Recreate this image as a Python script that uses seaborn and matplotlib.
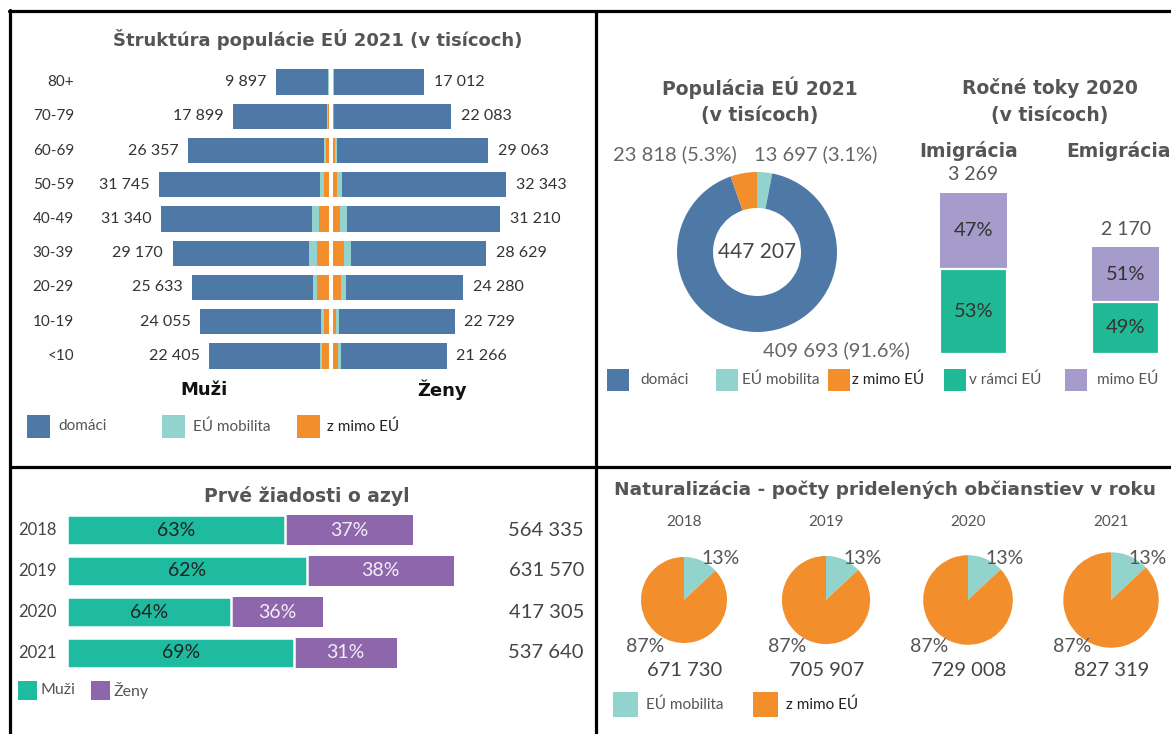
import numpy as np
import pandas as pd
import matplotlib
matplotlib.use("Agg")
import matplotlib.pyplot as plt
import matplotlib.transforms as mtransforms
from matplotlib.patches import Rectangle
from matplotlib.lines import Line2D
import seaborn as sns

W, H = 1171, 734

# --- population pyramid (thousands) ---
age_groups = ["80+", "70-79", "60-69", "50-59", "40-49", "30-39", "20-29", "10-19", "<10"]
men_total = [9897, 17899, 26357, 31745, 31340, 29170, 25633, 24055, 22405]
women_total = [17012, 22083, 29063, 32343, 31210, 28629, 24280, 22729, 21266]
men_eu_mob = [60, 150, 400, 750, 1200, 1400, 700, 550, 450]
men_non_eu = [60, 150, 500, 900, 1900, 2250, 2250, 950, 1250]
women_eu_mob = [60, 80, 300, 900, 1250, 1250, 950, 550, 600]
women_non_eu = [60, 100, 450, 800, 1400, 2050, 1500, 500, 900]

# --- EU population donut 2021 (thousands) ---
pop_labels = ["EÚ mobilita", "domáci", "z mimo EÚ"]
pop_values = [13697, 409693, 23818]
pop_pct = [3.1, 91.6, 5.3]
pop_total = 447207

# --- flows 2020 (thousands) ---
flow_names = ["Imigrácia", "Emigrácia"]
flow_total = [3269, 2170]
flow_in_eu_pct = [53, 49]
flow_out_eu_pct = [47, 51]

# --- asylum first applications ---
asy_years = ["2018", "2019", "2020", "2021"]
asy_total = [564335, 631570, 417305, 537640]
asy_men_pct = [63, 62, 64, 69]
asy_women_pct = [37, 38, 36, 31]

# --- naturalisation ---
nat_years = ["2018", "2019", "2020", "2021"]
nat_total = [671730, 705907, 729008, 827319]
nat_eu_pct = [13, 13, 13, 13]
nat_non_pct = [87, 87, 87, 87]

C_BLUE = "#4e79a7"
C_MOB = "#92d4cd"
C_ORANGE = "#f28e2b"
C_GREEN = "#20b996"
C_LAV = "#a59ccb"
C_PURPLE = "#8e66ab"
C_TITLE = "#555555"
C_TXT = "#444444"

sns.set_theme(style="white")
plt.rcParams["font.family"] = ["Lato", "DejaVu Sans"]

fig = plt.figure(figsize=(W / 100, H / 100), dpi=100)


def add_ax(x0, y0, x1, y1):
    a = fig.add_axes([x0 / W, 1 - y1 / H, (x1 - x0) / W, (y1 - y0) / H])
    a.set_axis_off()
    return a


def ftext(x, y, s, **kw):
    kw.setdefault("ha", "center")
    kw.setdefault("va", "center")
    kw.setdefault("color", C_TXT)
    fig.text(x / W, 1 - y / H, s, **kw)


def title(x, y, s, size=13.5):
    ftext(x, y, s, fontsize=size, fontweight="bold", color=C_TITLE,
          family=["DejaVu Sans"])


def swatch(x, y, w, h, fill, label, tx, size=11, tcolor="#555555"):
    fig.add_artist(Rectangle((x / W, 1 - (y + h) / H), w / W, h / H,
                             transform=fig.transFigure, color=fill, lw=0))
    ftext(tx, y + h / 2, label, ha="left", fontsize=size, color=tcolor)


def fmt(v):
    return f"{v:,}".replace(",", " ")


# ---------------- pyramid ----------------
title(318, 40, "Štruktúra populácie EÚ 2021 (v tisícoch)", 13)
px_per = 5.35 / 1000
ax = add_ax(140, 65, 525, 373)
ax.set_xlim((140 - 331) / px_per, (525 - 331) / px_per)
ax.set_ylim(8.5, -0.5)
g = 2 / px_per
yy = np.arange(len(age_groups))
m_tot, m_mob, m_non = map(np.array, (men_total, men_eu_mob, men_non_eu))
w_tot, w_mob, w_non = map(np.array, (women_total, women_eu_mob, women_non_eu))
m_dom = m_tot - m_mob - m_non
w_dom = w_tot - w_mob - w_non
bh = 0.74
ax.barh(yy, -m_non, left=-g, height=bh, color=C_ORANGE, lw=0)
ax.barh(yy, -m_mob, left=-g - m_non, height=bh, color=C_MOB, lw=0)
ax.barh(yy, -m_dom, left=-g - m_non - m_mob, height=bh, color=C_BLUE, lw=0)
ax.barh(yy, w_non, left=g, height=bh, color=C_ORANGE, lw=0)
ax.barh(yy, w_mob, left=g + w_non, height=bh, color=C_MOB, lw=0)
ax.barh(yy, w_dom, left=g + w_non + w_mob, height=bh, color=C_BLUE, lw=0)
agetr = mtransforms.blended_transform_factory(fig.transFigure, ax.transData)
for i in range(len(age_groups)):
    ax.annotate(fmt(men_total[i]), (-g - m_tot[i], i), xytext=(-7, 0),
                textcoords="offset points", ha="right", va="center",
                fontsize=11.5, color="#333333")
    ax.annotate(fmt(women_total[i]), (g + w_tot[i], i), xytext=(7, 0),
                textcoords="offset points", ha="left", va="center",
                fontsize=11.5, color="#333333")
    ax.text(74 / W, i, age_groups[i], ha="right", va="center", fontsize=11,
            color="#333333", transform=agetr)
ftext(204, 390, "Muži", fontsize=13, fontweight="bold", color="#111111",
      family=["DejaVu Sans"])
ftext(442, 390, "Ženy", fontsize=13, fontweight="bold", color="#111111",
      family=["DejaVu Sans"])
swatch(27, 415, 23, 23, C_BLUE, "domáci", 58)
swatch(162, 415, 23, 23, C_MOB, "EÚ mobilita", 193)
swatch(297, 415, 23, 23, C_ORANGE, "z mimo EÚ", 327, tcolor="#222222")

# ---------------- donut ----------------
title(760, 88, "Populácia EÚ 2021")
title(760, 115, "(v tisícoch)")
ax = add_ax(677, 172, 837, 332)
ax.pie(pop_values, colors=[C_MOB, C_BLUE, C_ORANGE], startangle=90,
       counterclock=False, wedgeprops=dict(width=0.45, linewidth=0))
ax.set_xlim(-1, 1)
ax.set_ylim(-1, 1)
ax.text(0, 0, fmt(pop_total), ha="center", va="center", fontsize=15, color=C_TXT)
ftext(675, 154, f"{fmt(pop_values[2])} ({pop_pct[2]}%)", fontsize=14.5, color="#666666")
ftext(816, 154, f"{fmt(pop_values[0])} ({pop_pct[0]}%)", fontsize=14.5, color="#666666")
ftext(836, 350, f"{fmt(pop_values[1])} ({pop_pct[1]}%)", fontsize=14.5, color="#666666")

# ---------------- flows ----------------
title(1050, 88, "Ročné toky 2020")
title(1050, 115, "(v tisícoch)")
ax = fig.add_axes([897 / W, 1 - 354 / H, 305 / W, 161 / H])
flows = pd.DataFrame({"name": flow_names, "total": flow_total,
                      "in_eu": [t * p / 100 for t, p in zip(flow_total, flow_in_eu_pct)]})
sns.barplot(data=flows, x="name", y="total", color=C_LAV, saturation=1,
            width=0.44, linewidth=0, ax=ax)
sns.barplot(data=flows, x="name", y="in_eu", color=C_GREEN, saturation=1,
            width=0.44, edgecolor="white", linewidth=1.6, ax=ax)
ax.set_xlim(-0.5, 1.5)
ax.set_ylim(0, flow_total[0])
ax.set_axis_off()
ftext(969, 151, flow_names[0], fontsize=13.5, fontweight="bold", color=C_TITLE,
      family=["DejaVu Sans"])
ftext(1119, 151, flow_names[1], fontsize=13.5, fontweight="bold", color=C_TITLE,
      family=["DejaVu Sans"])
for i in range(len(flow_names)):
    ax.annotate(fmt(flow_total[i]), (i, flow_total[i]), xytext=(0, 13),
                textcoords="offset points", ha="center", va="center",
                fontsize=14, color="#555555")
    ine = flows.in_eu[i]
    ax.text(i, ine / 2, f"{flow_in_eu_pct[i]}%", ha="center", va="center",
            fontsize=14.5, color="#333333")
    ax.text(i, ine + (flow_total[i] - ine) / 2, f"{flow_out_eu_pct[i]}%",
            ha="center", va="center", fontsize=14.5, color="#333333")

swatch(607, 369, 22, 22, C_BLUE, "domáci", 640)
swatch(716, 369, 22, 22, C_MOB, "EÚ mobilita", 742)
swatch(828, 369, 22, 22, C_ORANGE, "z mimo EÚ", 852, tcolor="#222222")
swatch(944, 369, 22, 22, C_GREEN, "v rámci EÚ", 969)
swatch(1065, 369, 22, 22, C_LAV, "mimo EÚ", 1097)

# ---------------- asylum ----------------
title(307, 496, "Prvé žiadosti o azyl")
ax = add_ax(67, 509.5, 600, 673.5)
asy = pd.DataFrame({"year": asy_years, "total": asy_total,
                    "men": [t * p / 100 for t, p in zip(asy_total, asy_men_pct)]})
sns.barplot(data=asy, y="year", x="total", color=C_PURPLE, saturation=1,
            orient="h", width=0.73, linewidth=0, ax=ax)
sns.barplot(data=asy, y="year", x="men", color="#1fbba1", saturation=1,
            orient="h", width=0.73, edgecolor="white", linewidth=1.8, ax=ax)
ax.set_xlim(0, 533 / 0.000613)
ax.set_ylim(3.5, -0.5)
ax.set_axis_off()
rowt = mtransforms.blended_transform_factory(fig.transFigure, ax.transData)
for i in range(len(asy_years)):
    m = asy.men[i]
    ax.text(m / 2, i, f"{asy_men_pct[i]}%", ha="center", va="center",
            fontsize=14, color="#222222")
    ax.text(m + (asy_total[i] - m) / 2, i, f"{asy_women_pct[i]}%", ha="center",
            va="center", fontsize=14, color="#f2eef6")
    ax.text(18 / W, i, asy_years[i], transform=rowt, ha="left", va="center",
            fontsize=12, color=C_TXT)
    ax.text(584 / W, i, fmt(asy_total[i]), transform=rowt, ha="right", va="center",
            fontsize=14.5, color=C_TXT)
swatch(18, 681, 19, 19, "#1fbba1", "Muži", 41, size=11.5)
swatch(91, 681, 19, 19, C_PURPLE, "Ženy", 114, size=11.5)

# ---------------- naturalisation ----------------
title(885, 490, "Naturalizácia - počty pridelených občianstiev v roku", 13.3)
centers = [684, 826, 968, 1111]
for i in range(len(nat_years)):
    cx, cy = centers[i], 600
    r = 43 * np.sqrt(nat_total[i] / nat_total[0])
    ax = add_ax(cx - 50, cy - 50, cx + 50, cy + 50)
    ax.pie([nat_eu_pct[i], nat_non_pct[i]], colors=[C_MOB, C_ORANGE], startangle=90,
           counterclock=False, radius=r / 50, wedgeprops=dict(linewidth=0))
    ax.set_xlim(-1, 1)
    ax.set_ylim(-1, 1)
    ftext(cx, 522, nat_years[i], fontsize=11, color="#555555")
    ftext(cx + 37, 559, f"{nat_eu_pct[i]}%", fontsize=14, color="#555555")
    ftext(cx - 39, 646, f"{nat_non_pct[i]}%", fontsize=14, color="#555555")
    ftext(cx + 1, 670, fmt(nat_total[i]), fontsize=14.5, color=C_TXT)
swatch(613, 692, 25, 25, C_MOB, "EÚ mobilita", 646)
swatch(753, 692, 25, 25, C_ORANGE, "z mimo EÚ", 786, tcolor="#222222")

# ---------------- frame ----------------
lw = 2.3
for (x0, y0, x1, y1) in [(9, 11, W, 11), (10, 10, 10, H), (596, 11, 596, H), (10, 467, W, 467)]:
    fig.add_artist(Line2D([x0 / W, x1 / W], [1 - y0 / H, 1 - y1 / H], color="black",
                          lw=lw, transform=fig.transFigure))

fig.savefig("out.png", dpi=100)
